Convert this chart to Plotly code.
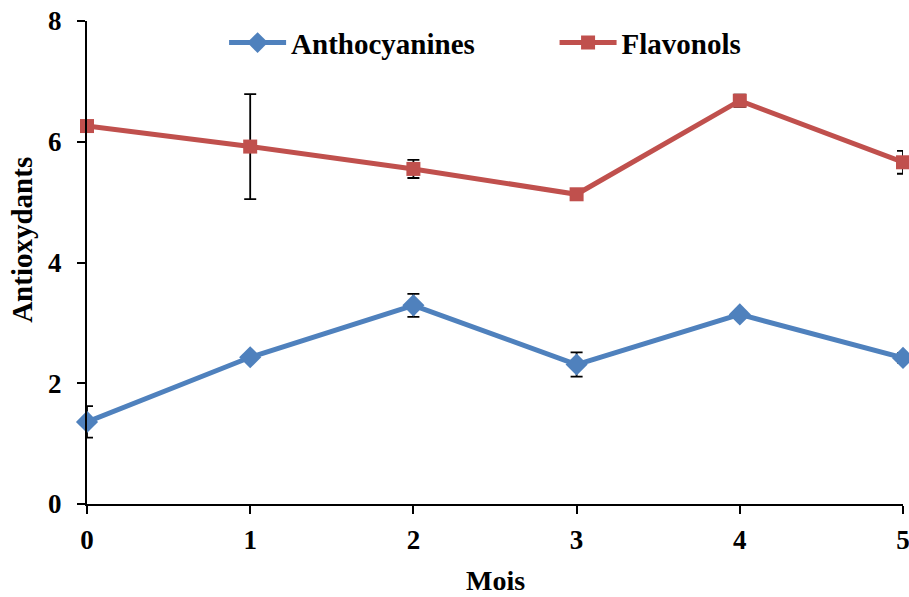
import plotly.graph_objects as go

mois = [0, 1, 2, 3, 4, 5]
antho = [1.36, 2.43, 3.29, 2.31, 3.14, 2.42]
antho_err = [0.26, 0.0, 0.19, 0.20, 0.0, 0.08]
flav = [6.26, 5.92, 5.55, 5.13, 6.68, 5.66]
flav_err = [0.0, 0.87, 0.15, 0.0, 0.10, 0.19]
yticks = [0, 2, 4, 6, 8]

font = "Liberation Serif"

fig = go.Figure()
fig.add_trace(go.Scatter(
    x=mois, y=antho, name="Anthocyanines", mode="lines+markers",
    line=dict(color="#4F81BD", width=5),
    marker=dict(symbol="diamond", size=17, color="#4F81BD"),
    error_y=dict(type="data", array=antho_err, visible=True, color="black", thickness=1.8, width=6),
    cliponaxis=False, legend="legend",
))
fig.add_trace(go.Scatter(
    x=mois, y=flav, name="Flavonols", mode="lines+markers",
    line=dict(color="#C0504D", width=5),
    marker=dict(symbol="square", size=14, color="#C0504D"),
    error_y=dict(type="data", array=flav_err, visible=True, color="black", thickness=1.8, width=6),
    cliponaxis=False, legend="legend2",
))

axis_font = dict(family=font, size=27, color="black", weight="bold")
leg_font = dict(family=font, size=29, color="black", weight="bold")

fig.update_layout(
    width=909, height=597,
    margin=dict(l=87, r=6, t=21, b=93, autoexpand=False),
    plot_bgcolor="white", paper_bgcolor="white",
    font=dict(family=font, size=27, color="black", weight="bold"),
    showlegend=True,
    legend=dict(orientation="h", x=0.168, y=0.955, xanchor="left", yanchor="middle",
                font=leg_font, itemwidth=57, bgcolor="rgba(0,0,0,0)"),
    legend2=dict(orientation="h", x=0.573, y=0.955, xanchor="left", yanchor="middle",
                 font=leg_font, itemwidth=57, bgcolor="rgba(0,0,0,0)"),
    xaxis=dict(
        range=[0, 5], tickvals=mois, ticktext=[str(m) for m in mois],
        showgrid=False, zeroline=False, showline=True, linecolor="black", linewidth=2,
        ticks="outside", ticklen=8, tickcolor="black", tickwidth=2,
        tickfont=axis_font, ticklabelstandoff=3, ticklabeloverflow="allow",
        automargin=False,
    ),
    yaxis=dict(
        range=[0, 8], tickvals=yticks, ticktext=[str(v) for v in yticks],
        showgrid=False, zeroline=False, showline=True, linecolor="black", linewidth=2,
        ticks="outside", ticklen=8, tickcolor="black", tickwidth=2,
        tickfont=axis_font, ticklabelstandoff=10, automargin=False,
    ),
    annotations=[
        dict(text="Mois", xref="paper", yref="paper", x=0.5, y=-0.158,
             xanchor="center", yanchor="middle", showarrow=False,
             font=dict(family=font, size=28, color="black", weight="bold")),
        dict(text="Antioxydants", xref="paper", yref="paper", x=-0.079, y=0.546,
             xanchor="center", yanchor="middle", showarrow=False, textangle=-90,
             font=dict(family=font, size=29, color="black", weight="bold")),
    ],
)

fig.write_html("out.html")
